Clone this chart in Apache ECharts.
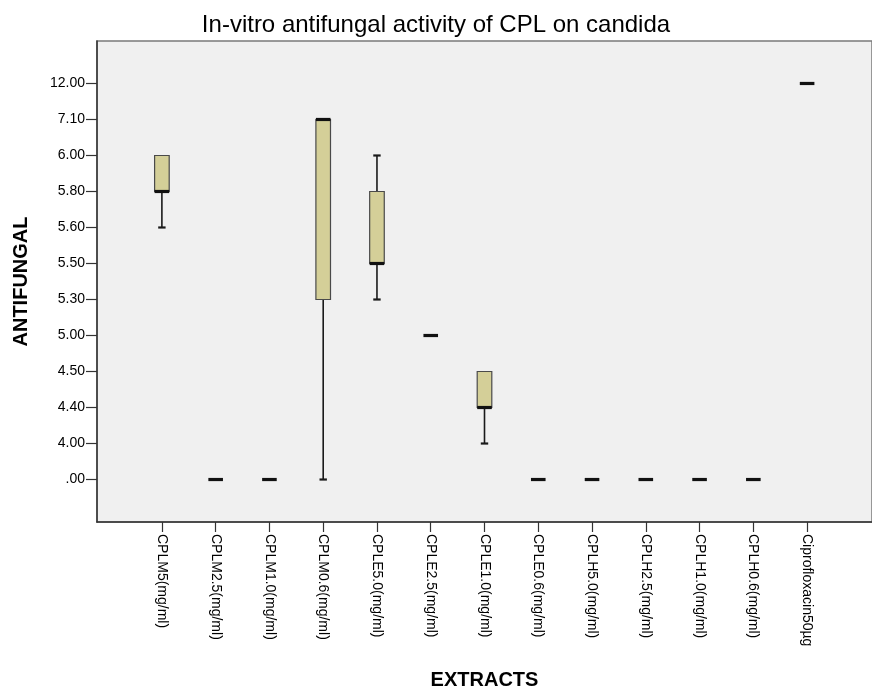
<!DOCTYPE html>
<html>
<head>
<meta charset="utf-8">
<style>
  html, body { margin: 0; padding: 0; background: #ffffff; }
  #chart { width: 872px; height: 695px; }
</style>
<script src="https://cdn.jsdelivr.net/npm/echarts@6/dist/echarts.min.js"></script>
</head>
<body>
<div id="chart"></div>
<script>
// ---- Data ----
const categories = [
  'CPLM5(mg/ml)', 'CPLM2.5(mg/ml)', 'CPLM1.0(mg/ml)', 'CPLM0.6(mg/ml)',
  'CPLE5.0(mg/ml)', 'CPLE2.5(mg/ml)', 'CPLE1.0(mg/ml)', 'CPLE0.6(mg/ml)',
  'CPLH5.0(mg/ml)', 'CPLH2.5(mg/ml)', 'CPLH1.0(mg/ml)', 'CPLH0.6(mg/ml)',
  'Ciprofloxacin50µg'
];
// The ANTIFUNGAL axis is ordinal (each observed value is one evenly spaced level)
const yLevels = [0, 4, 4.4, 4.5, 5, 5.3, 5.5, 5.6, 5.8, 6, 7.1, 12];
const yTickLabels = ['.00', '4.00', '4.40', '4.50', '5.00', '5.30', '5.50', '5.60', '5.80', '6.00', '7.10', '12.00'];

const whiskerLow  = [5.6, 0, 0, 0,   5.3, 5, 4.0, 0, 0, 0, 0, 0, 12];
const quartile1   = [5.8, 0, 0, 5.3, 5.5, 5, 4.4, 0, 0, 0, 0, 0, 12];
const medianVals  = [5.8, 0, 0, 7.1, 5.5, 5, 4.4, 0, 0, 0, 0, 0, 12];
const quartile3   = [6.0, 0, 0, 7.1, 5.8, 5, 4.5, 0, 0, 0, 0, 0, 12];
const whiskerHigh = [6.0, 0, 0, 7.1, 6.0, 5, 4.5, 0, 0, 0, 0, 0, 12];

const titleText = 'In-vitro antifungal activity of CPL on candida';
const xName = 'EXTRACTS';
const yName = 'ANTIFUNGAL';

// ---- Build ----
const lvl = v => yLevels.indexOf(v);
const boxData = categories.map((c, i) => [
  i, lvl(whiskerLow[i]), lvl(quartile1[i]), lvl(medianVals[i]), lvl(quartile3[i]), lvl(whiskerHigh[i])
]);
const catIdx = categories.map((c, i) => i);
const lvlIdx = yLevels.map((v, i) => i);

const FONT = '"Liberation Sans", Arial, sans-serif';
const BOX_HALF = 7.3;
const CAP_HALF = 3.7;

function renderBox(params, api) {
  const i = api.value(0);
  const lo = api.value(1), q1 = api.value(2), md = api.value(3), q3 = api.value(4), hi = api.value(5);
  const x = api.coord([i, 0])[0];
  const yLo = api.coord([i, lo])[1];
  const yQ1 = api.coord([i, q1])[1];
  const yMd = api.coord([i, md])[1];
  const yQ3 = api.coord([i, q3])[1];
  const yHi = api.coord([i, hi])[1];
  const children = [];
  const wStyle = { stroke: '#1a1a1a', lineWidth: 1.6 };
  if (lo < q1) {
    children.push({ type: 'line', shape: { x1: x, y1: yQ1, x2: x, y2: yLo }, style: wStyle });
    children.push({ type: 'line', shape: { x1: x - CAP_HALF, y1: yLo, x2: x + CAP_HALF, y2: yLo }, style: { stroke: '#1a1a1a', lineWidth: 2.2 } });
  }
  if (hi > q3) {
    children.push({ type: 'line', shape: { x1: x, y1: yQ3, x2: x, y2: yHi }, style: wStyle });
    children.push({ type: 'line', shape: { x1: x - CAP_HALF, y1: yHi, x2: x + CAP_HALF, y2: yHi }, style: { stroke: '#1a1a1a', lineWidth: 2.2 } });
  }
  if (q3 > q1) {
    children.push({
      type: 'rect',
      shape: { x: x - BOX_HALF, y: yQ3, width: BOX_HALF * 2, height: yQ1 - yQ3 },
      style: { fill: '#d4cf98', stroke: '#4a4a4a', lineWidth: 1.2 }
    });
  }
  children.push({
    type: 'line',
    shape: { x1: x - BOX_HALF, y1: yMd, x2: x + BOX_HALF, y2: yMd },
    style: { stroke: '#111111', lineWidth: 3.2 }
  });
  return { type: 'group', children: children };
}

const chart = echarts.init(document.getElementById('chart'), null, { renderer: 'canvas' });
chart.setOption({
  backgroundColor: '#ffffff',
  animation: false,
  textStyle: { fontFamily: FONT },
  title: {
    text: titleText,
    left: 'center',
    top: 8,
    textStyle: { fontFamily: FONT, fontSize: 24, fontWeight: 'normal', color: '#000000' }
  },
  grid: {
    left: 97, top: 41, width: 785, height: 487,
    show: true, backgroundColor: '#f0f0f0', borderColor: '#7a7a7a', borderWidth: 1.5,
    containLabel: false
  },
  xAxis: {
    type: 'value',
    min: -1.207, max: 13.207,
    name: xName,
    nameLocation: 'middle',
    nameGap: 148,
    nameTextStyle: { fontFamily: FONT, fontSize: 20, fontWeight: 'bold', color: '#000' },
    splitLine: { show: false },
    axisLine: { show: true, onZero: false, lineStyle: { color: '#333', width: 1.5 } },
    axisTick: { show: true, length: 10, inside: false, customValues: catIdx, lineStyle: { color: '#333', width: 1.2 } },
    axisLabel: {
      customValues: catIdx,
      rotate: -90,
      margin: 12,
      fontFamily: FONT, fontSize: 14, color: '#000',
      formatter: v => categories[Math.round(v)] || ''
    }
  },
  yAxis: {
    type: 'value',
    min: -1.18, max: 12.18,
    name: yName,
    nameLocation: 'middle',
    nameGap: 66,
    nameRotate: 90,
    nameTextStyle: { fontFamily: FONT, fontSize: 20, fontWeight: 'bold', color: '#000' },
    splitLine: { show: false },
    axisLine: { show: true, onZero: false, lineStyle: { color: '#333', width: 1.5 } },
    axisTick: { show: true, length: 11, inside: false, customValues: lvlIdx, lineStyle: { color: '#333', width: 1.2 } },
    axisLabel: {
      customValues: lvlIdx,
      margin: 12,
      fontFamily: FONT, fontSize: 14, color: '#000',
      formatter: v => yTickLabels[Math.round(v)] || ''
    }
  },
  series: [{
    type: 'custom',
    name: 'ANTIFUNGAL',
    renderItem: renderBox,
    encode: { x: 0, y: [1, 2, 3, 4, 5] },
    data: boxData,
    clip: false
  }]
});
</script>
</body>
</html>
